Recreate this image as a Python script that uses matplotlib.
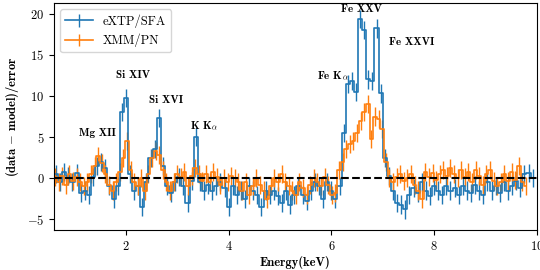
import numpy as np
import matplotlib
matplotlib.use("Agg")
import matplotlib.pyplot as plt

# --- data: residuals ---
extp_energy = np.arange(0.64, 9.95, 0.08)
extp_resid = [
    0.5, -0.5, 0.8, 0.3, -0.5, 0.6, -1.8, -1.5, -2.0, 0.2,
    1.5, 2.0, 1.2, -1.0, -2.5, -1.0, 8.0, 9.8, 0.5, -1.5,
    -1.0, -3.5, -0.5, 2.5, 3.5, 7.3, 1.5, -1.0, -1.8, -0.5,
    0.2, -1.0, -3.0, -0.3, 5.0, -0.5, -1.5, -0.8, -1.5, -1.0,
    -0.5, -1.2, -3.5, -1.0, -2.0, -1.5, -2.5, -1.0, -1.5, -2.0,
    -3.5, -1.5, -2.0, -1.5, -2.2, -3.0, -1.5, -3.2, -2.0, -1.0,
    -2.0, -2.8, -1.5, -0.5, -1.0, -2.5, -0.5, -1.5, -2.5, -1.0,
    5.5, 11.5, 11.8, 10.5, 19.3, 18.0, 12.0, 11.8, 18.2, 10.3,
    2.5, 0.3, -1.5, -3.0, -3.2, -3.8, -2.0, -1.2, -1.8, -0.5,
    -1.5, -2.2, -1.0, -1.5, -2.0, -1.0, -1.5, -1.2, -2.0, -1.0,
    -1.5, -1.8, -0.8, -1.5, -2.0, -0.5, -1.5, -1.0, -1.8, -0.5,
    -1.5, -1.0, -0.3, -1.2, 0.5, 0.6, 0.0,
]
extp_err = 1.1

xmm_energy = np.arange(0.62, 9.82, 0.07)
xmm_resid = [
    0.2, -0.5, 0.3, -0.8, 0.5, -0.3, 0.2, -0.5, -1.0, -0.5,
    0.5, 1.5, 2.7, 1.8, 0.5, -0.8, -1.5, -0.5, 0.8, 2.5,
    4.5, 1.0, -0.5, -1.0, 0.0, -1.5, 0.5, 2.5, 3.3, 2.8,
    1.0, -0.5, -1.5, -0.5, 0.5, 0.2, 0.8, -1.0, 0.3, 1.2,
    0.5, -0.3, 0.5, -0.5, 0.8, 0.2, -0.8, 0.0, -0.5, 0.3,
    0.0, -0.5, -1.5, -0.5, -2.0, -1.0, 0.0, -0.8, -1.5, -2.5,
    -1.0, 0.0, -0.5, 0.5, -0.5, -1.0, -1.5, -2.0, -0.5, -1.2,
    -2.0, -0.8, 0.0, -0.5, -1.0, 0.2, -0.8, -2.0, -1.8, 1.0,
    2.0, 3.5, 4.2, 4.5, 5.5, 7.0, 8.0, 9.0, 4.8, 7.5,
    7.2, 6.0, 2.0, 0.0, -0.5, 0.2, 0.5, -0.3, 0.0, 0.5,
    -0.8, -1.5, -2.5, 0.8, 0.2, 0.6, -0.2, 0.5, 1.0, 0.3,
    1.2, 0.5, 0.0, 1.0, 0.2, 0.8, -0.5, 1.0, 0.3, -0.8,
    0.5, 1.0, -0.3, -1.0, -0.5, 0.5, -0.3, 0.8, -0.2, 1.5,
    -0.5, -1.0,
]
xmm_err = 1.1

line_names = ["Mg XII", "Si XIV", "Si XVI", "K K$_\\alpha$",
              "Fe K$_\\alpha$", "Fe XXV", "Fe XXVI"]
line_x = [1.44, 2.14, 2.78, 3.52, 6.03, 6.59, 7.56]
line_y = [5.5, 12.6, 9.5, 6.3, 12.4, 20.6, 16.5]

# --- style ---
plt.rcParams["font.family"] = "serif"
plt.rcParams["font.serif"] = ["cmr10"]
plt.rcParams["mathtext.fontset"] = "cm"
plt.rcParams["axes.formatter.use_mathtext"] = True
plt.rcParams["font.size"] = 9

fig = plt.figure(figsize=(5.4, 2.7), dpi=100)
ax = fig.add_axes([0.1, 0.148, 0.894, 0.841])

ax.errorbar(extp_energy, extp_resid[:len(extp_energy)], yerr=extp_err,
            drawstyle="steps-mid", color="#1f77b4", lw=1.2, elinewidth=1.0,
            label="eXTP/SFA")
ax.errorbar(xmm_energy, xmm_resid[:len(xmm_energy)], yerr=xmm_err,
            drawstyle="steps-mid", color="#ff7f0e", lw=1.2, elinewidth=1.0,
            label="XMM/PN")
ax.axhline(0, color="k", ls="--", lw=1.5, zorder=5)

for name, x, y in zip(line_names, line_x, line_y):
    ax.text(x, y, name, ha="center", va="center", fontsize=8,
            fontname="cmb10")

ax.set_xlim(0.6, 10)
ax.set_ylim(-6.3, 21.3)
ax.set_xticks([2, 4, 6, 8, 10])
ax.set_yticks([-5, 0, 5, 10, 15, 20])
ax.tick_params(labelsize=9)
ax.set_xlabel("Energy(keV)", fontname="cmb10", fontsize=9, labelpad=2)
ax.set_ylabel("(data $-$ model)/error", fontname="cmb10", fontsize=9)
ax.legend(loc="upper left", fontsize=9, handlelength=2.2)

fig.savefig("out.png", dpi=100)
